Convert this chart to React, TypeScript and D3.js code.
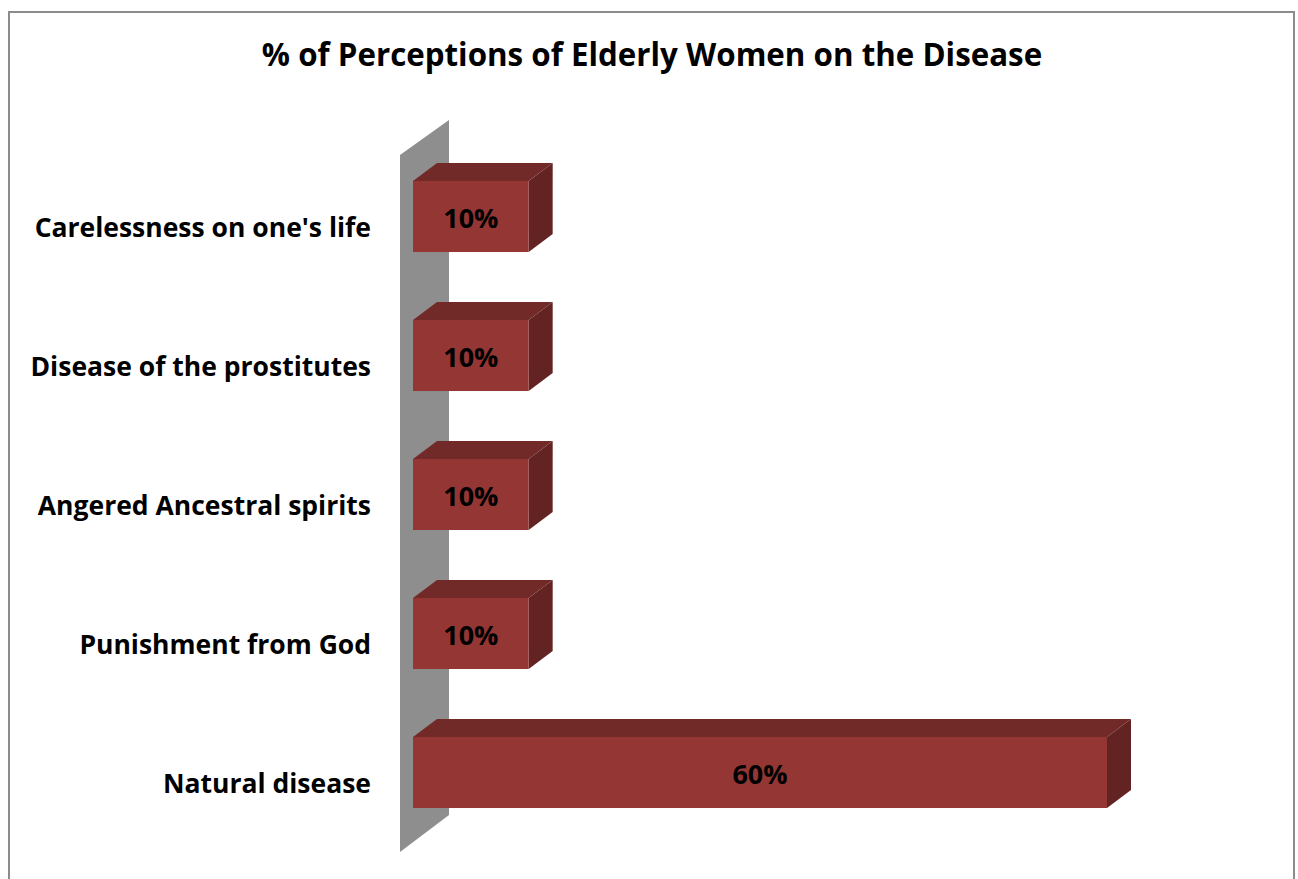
import React from "react";
import * as d3 from "d3";

const categories = [
  "Carelessness on one's life",
  "Disease of the prostitutes",
  "Angered Ancestral spirits",
  "Punishment from God",
  "Natural disease",
];
const values = [10, 10, 10, 10, 60];
const valueLabels = ["10%", "10%", "10%", "10%", "60%"];
const title = "% of Perceptions of Elderly Women on the Disease";

const W = 1298;
const H = 879;
const FONT = "'Open Sans', Lato, sans-serif";

export default function App() {
  const x = d3.scaleLinear().domain([0, 60]).range([413, 1107]);
  const y = d3
    .scaleBand<string>()
    .domain(categories)
    .range([147, 842])
    .paddingInner(0.489)
    .paddingOuter(0.2445);
  const bw = y.bandwidth();
  const ddx = 24;
  const ddy = -18;

  // wall
  const wx0 = 400, wx1 = 449, wTopL = 155, wTopR = 120, wBotL = 852, wBotR = 815;

  return (
    <svg width={W} height={H} style={{ position: "absolute", left: 0, top: 0 }}>
      <rect x={0} y={0} width={W} height={H} fill="#fff" />
      <rect x={9} y={12} width={1285} height={900} fill="#fff" stroke="#8c8c8c" strokeWidth={2} />
      <text x={652} y={66} textAnchor="middle" fontFamily={FONT} fontWeight={700} fontSize={31.3} fill="#000">
        {title}
      </text>
      <polygon
        points={`${wx0},${wTopL} ${wx1},${wTopR} ${wx1},${wBotR} ${wx0},${wBotL}`}
        fill="#8e8e8e"
      />
      {categories.map((c, i) => {
        const y0 = y(c)!;
        const x0 = x(0);
        const x1 = x(values[i]);
        return (
          <g key={c}>
            <polygon
              points={`${x0},${y0} ${x0 + ddx},${y0 + ddy} ${x1 + ddx},${y0 + ddy} ${x1},${y0}`}
              fill="#722a28"
            />
            <polygon
              points={`${x1},${y0} ${x1 + ddx},${y0 + ddy} ${x1 + ddx},${y0 + bw + ddy} ${x1},${y0 + bw}`}
              fill="#632322"
            />
            <rect x={x0} y={y0} width={x1 - x0} height={bw} fill="#943634" />
            <text x={(x0 + x1) / 2} y={y0 + bw / 2 + 11} textAnchor="middle" fontFamily={FONT} fontWeight={700} fontSize={27} fill="#000">
              {valueLabels[i]}
            </text>
            <text x={371} y={y0 + bw / 2 + 20.5} textAnchor="end" fontFamily={FONT} fontWeight={700} fontSize={26.5} fill="#000">
              {c}
            </text>
          </g>
        );
      })}
    </svg>
  );
}
